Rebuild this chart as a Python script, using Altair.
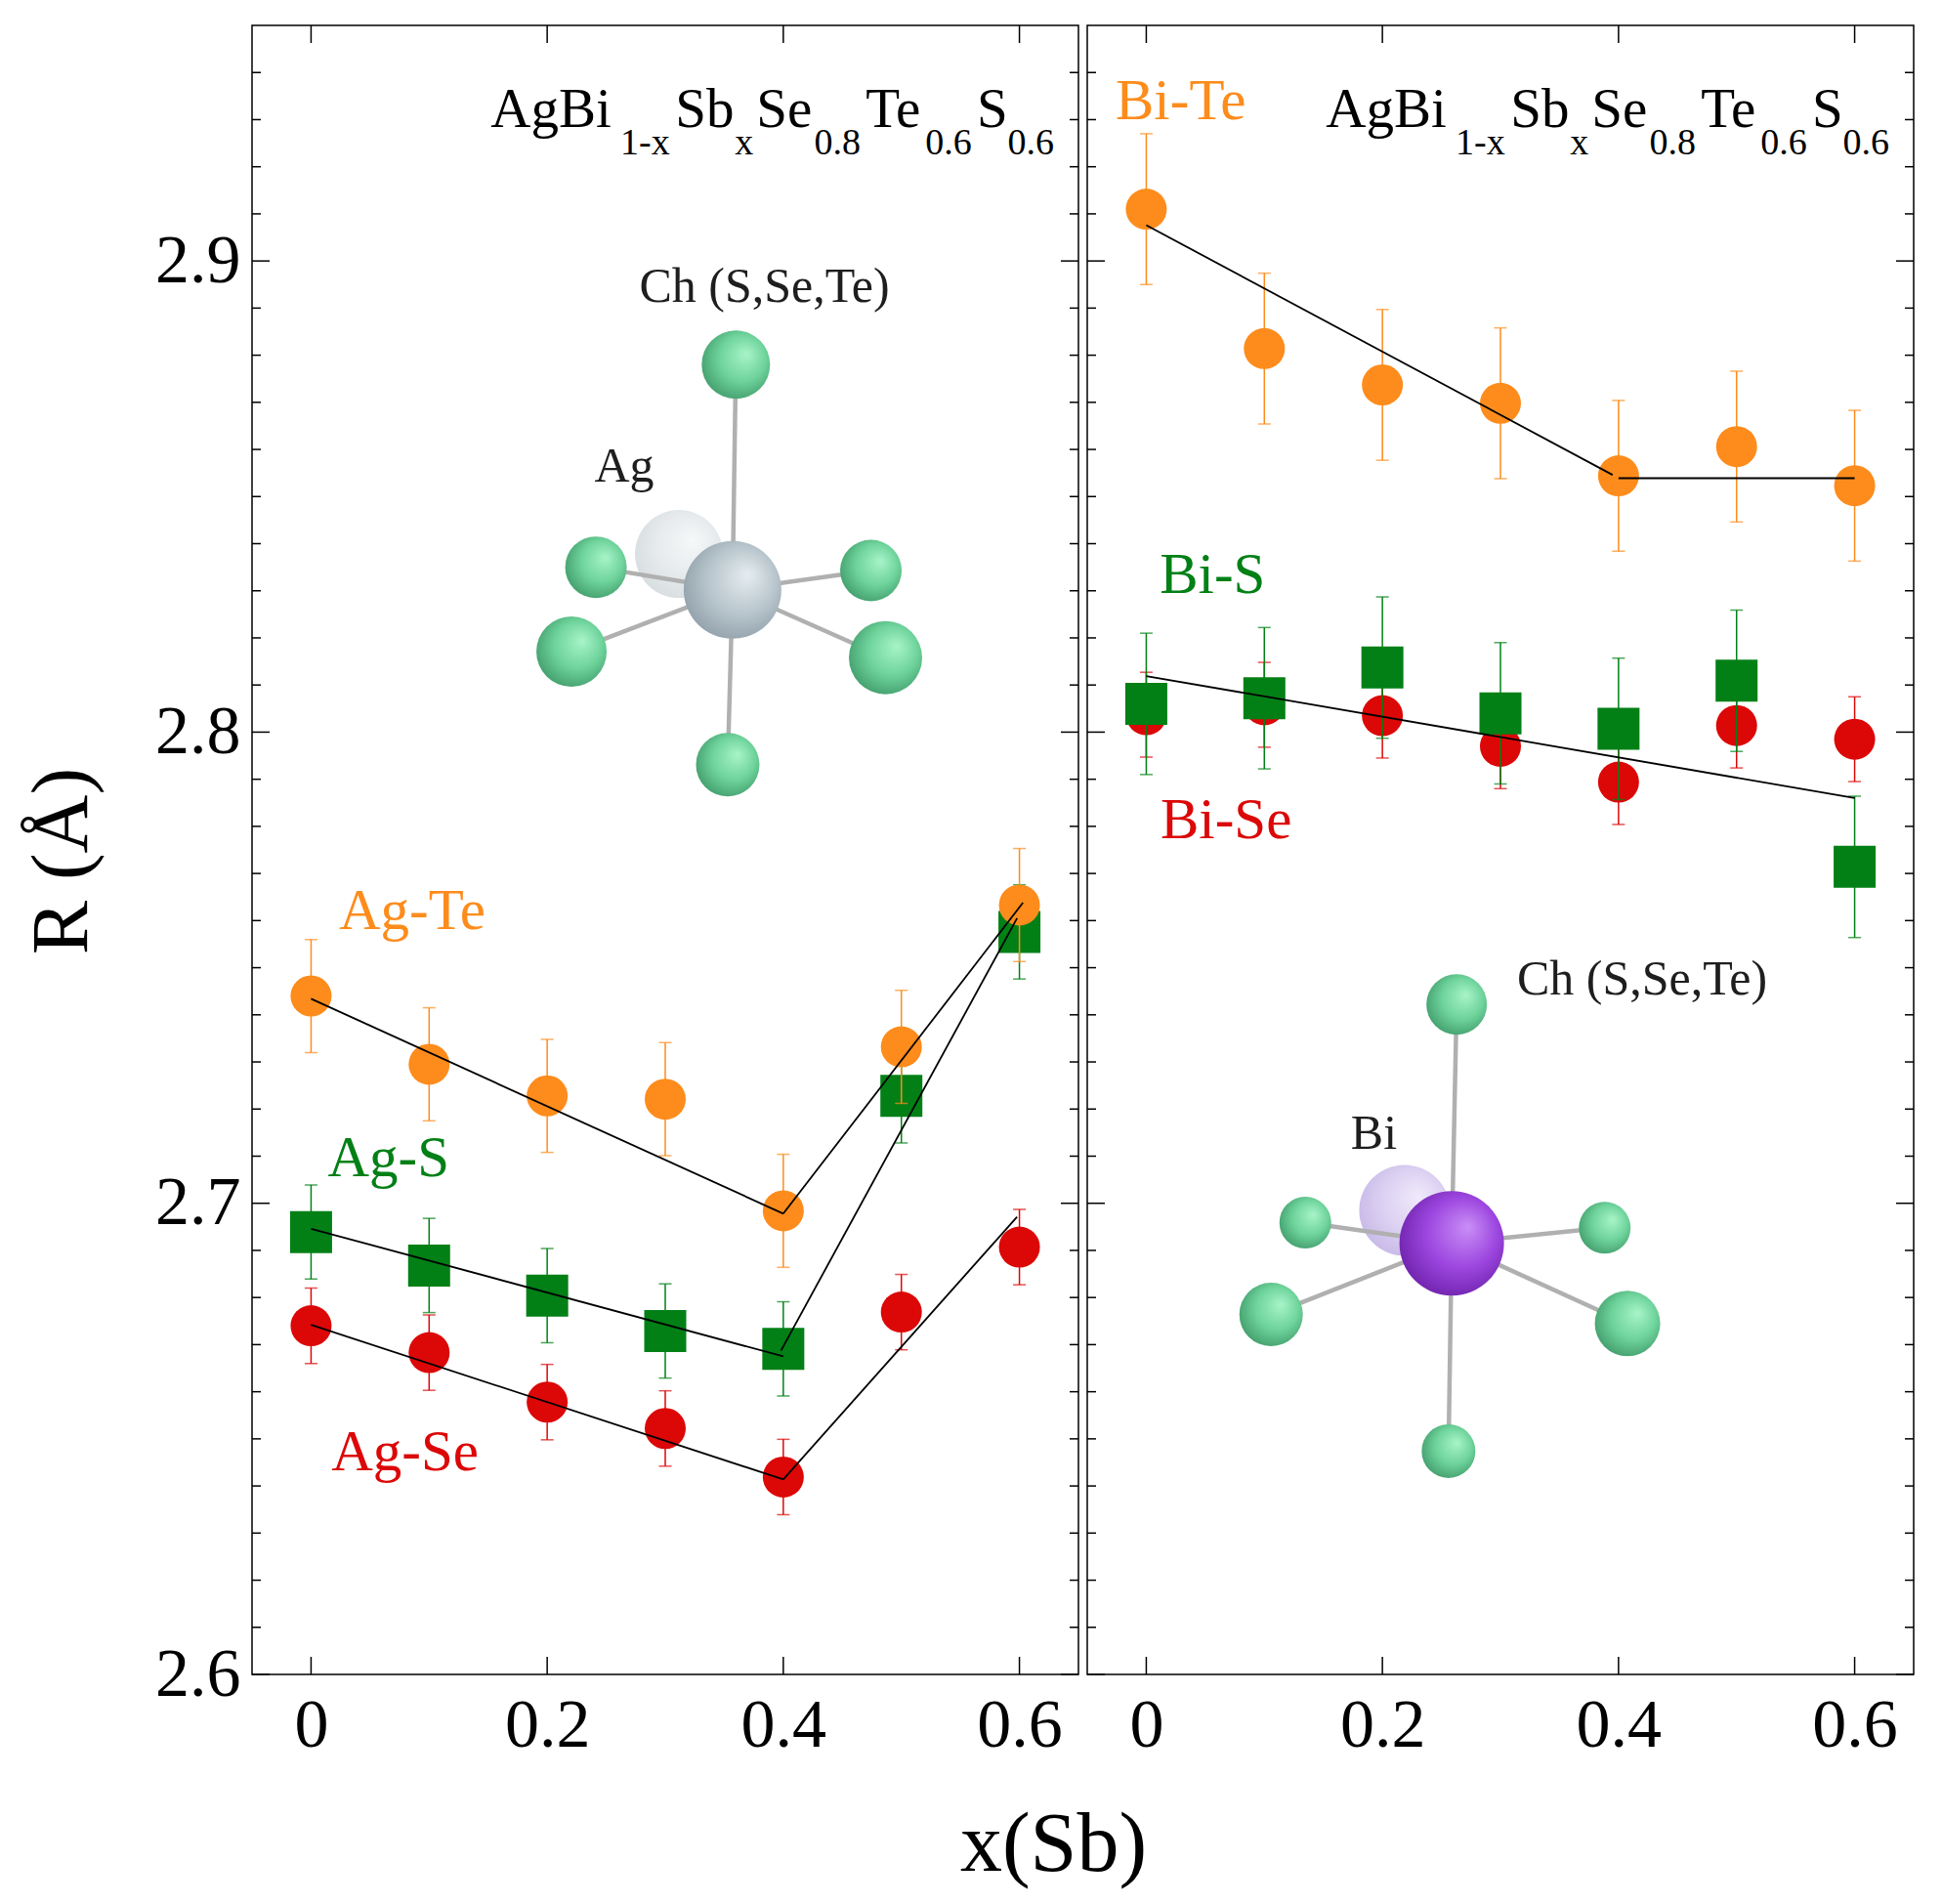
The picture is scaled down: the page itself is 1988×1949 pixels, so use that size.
import altair as alt
import pandas as pd

FONT = "Liberation Serif"
ORANGE = "#fd8c1c"
RED = "#dc0707"
GREEN = "#028016"

# ---------------- data ----------------
x_sb = [0.0, 0.1, 0.2, 0.3, 0.4, 0.5, 0.6]

ag_te = [2.7440, 2.7295, 2.7228, 2.7221, 2.6984, 2.7332, 2.7633]
ag_te_err = 0.012
ag_s = [2.6939, 2.6868, 2.6804, 2.6729, 2.6691, 2.7228, 2.7576]
ag_s_err = 0.010
ag_se = [2.6740, 2.6683, 2.6578, 2.6522, 2.6419, 2.6769, 2.6907]
ag_se_err = 0.008

bi_te = [2.9110, 2.8814, 2.8737, 2.8698, 2.8544, 2.8606, 2.8523]
bi_te_err = 0.016
bi_s = [2.8060, 2.8072, 2.8137, 2.8040, 2.8007, 2.8109, 2.7714]
bi_s_err = 0.015
bi_se = [2.8037, 2.8058, 2.8035, 2.7970, 2.7894, 2.8014, 2.7985]
bi_se_err = 0.009

# fitted segments: x1, y1, x2, y2
ag_fit_x1 = [0.0, 0.4, 0.0, 0.398, 0.0, 0.4]
ag_fit_y1 = [2.7434, 2.6978, 2.6946, 2.6687, 2.6742, 2.6414]
ag_fit_x2 = [0.4, 0.603, 0.4, 0.598, 0.4, 0.598]
ag_fit_y2 = [2.6978, 2.7638, 2.6675, 2.7605, 2.6414, 2.6971]

bi_fit_x1 = [0.0, 0.4, 0.0]
bi_fit_y1 = [2.9076, 2.8539, 2.8119]
bi_fit_x2 = [0.395, 0.6, 0.6]
bi_fit_y2 = [2.8546, 2.8539, 2.7860]

# axis ticks
x_tick_values = [0.0, 0.2, 0.4, 0.6]
y_tick_values = [2.6, 2.7, 2.8, 2.9]
y_minor_values = [round(2.6 + 0.01 * i, 2) for i in range(1, 35) if i % 10 != 0]

# annotation texts (data coordinates)
formula_main = ["AgBi", "Sb", "Se", "Te", "S"]
formula_main_x = [0.1522, 0.3085, 0.3772, 0.4698, 0.5640]
formula_sub = ["1-x", "x", "0.8", "0.6", "0.6"]
formula_sub_x = [0.2620, 0.3590, 0.4262, 0.5202, 0.5900]
formula_main_y = 2.9284
formula_sub_y = 2.9226

ag_labels = ["Ag-Te", "Ag-S", "Ag-Se"]
ag_labels_x = [0.0236, 0.0141, 0.0172]
ag_labels_y = [2.7582, 2.7058, 2.6434]
bi_labels = ["Bi-Te", "Bi-S", "Bi-Se"]
bi_labels_x = [-0.026, 0.0114, 0.012]
bi_labels_y = [2.930, 2.8295, 2.7775]

# molecule illustrations (data coordinates)
ag_ch_x = [0.3598, 0.2413, 0.4742, 0.2206, 0.4866, 0.3529]
ag_ch_y = [2.8780, 2.8350, 2.8343, 2.8171, 2.8158, 2.7931]
ag_center = [0.357, 2.8302]
ag_ghost = [0.3116, 2.8378]
ag_mol_text = ["Ch (S,Se,Te)", "Ag"]
ag_mol_text_x = [0.278, 0.240]
ag_mol_text_y = [2.8913, 2.8532]

bi_ch_x = [0.2629, 0.1347, 0.3883, 0.1057, 0.4076, 0.2560]
bi_ch_y = [2.7422, 2.6959, 2.6948, 2.6764, 2.6745, 2.6474]
bi_center = [0.2587, 2.6915]
bi_ghost = [0.2188, 2.6985]
bi_mol_text = ["Ch (S,Se,Te)", "Bi"]
bi_mol_text_x = [0.314, 0.1733]
bi_mol_text_y = [2.7444, 2.7115]

# ---------------- styles ----------------
W, H = 846, 1688
CH_DIAM_AG = [70, 63, 63, 72, 75, 65]
CH_DIAM_BI = [62, 53, 53, 65, 67, 55]


def grad(c0, c1, c2):
    return {"gradient": "radial", "x1": 0.66, "y1": 0.34, "r1": 0.0,
            "x2": 0.55, "y2": 0.45, "r2": 0.62,
            "stops": [{"offset": 0, "color": c0}, {"offset": 0.55, "color": c1},
                      {"offset": 1, "color": c2}]}


GREEN_BALL = grad("#a8f4c9", "#6ed39b", "#3f9a69")
AG_BALL = grad("#e6edf0", "#b9c6cd", "#8e9ea8")
AG_GHOST = grad("#f6f8f9", "#e7ebed", "#d6dcdf")
BI_BALL = grad("#c98ef6", "#9c46df", "#6b20a8")
BI_GHOST = grad("#f0eafb", "#dcd1f2", "#c6b7e6")


def sx():
    return alt.Scale(domain=[-0.05, 0.65], nice=False, zero=False)


def sy():
    return alt.Scale(domain=[2.6, 2.95], nice=False, zero=False)


def build_panel(series, fit, labels, molecule, left):
    x_axis = alt.Axis(values=x_tick_values, ticks=False, domain=False, grid=False,
                      labelExpr="datum.value == 0 ? '0' : format(datum.value, '.1f')",
                      labelFont=FONT, labelFontSize=70, labelColor="black", labelPadding=18,
                      labelFlush=False, labelOverlap=False,
                      title="x(Sb)" if left else None,
                      titleFont=FONT, titleFontSize=86, titleFontWeight="normal",
                      titleColor="black", titleX=820, titleY=200,
                      titleAlign="center", titleBaseline="alphabetic")
    if left:
        y_axis = alt.Axis(values=y_tick_values, format=".1f", ticks=False, domain=False,
                          grid=False, labelFont=FONT, labelFontSize=70, labelColor="black",
                          labelPadding=12, labelFlush=False, labelOverlap=False,
                          title="R (Å)", titleFont=FONT, titleFontSize=83,
                          titleFontWeight="normal", titleColor="black",
                          titleX=-170, titleY=855, titleAngle=270,
                          titleAlign="center", titleBaseline="alphabetic")
    else:
        y_axis = None

    def X(f):
        return alt.X(f, type="quantitative", scale=sx(), axis=x_axis)

    def Y(f):
        return alt.Y(f, type="quantitative", scale=sy(), axis=y_axis)

    layers = []

    # --- molecule illustration ---
    chx, chy, cen, gho, ball, ghost_ball, diams, mtext, mtx, mty = molecule
    bonds = pd.DataFrame({"x1": [cen[0]] * 6, "y1": [cen[1]] * 6, "x2": chx, "y2": chy})
    ghost_df = pd.DataFrame({"x": [gho[0]], "y": [gho[1]], "s": [diams[-1] ** 2]})
    layers.append(alt.Chart(ghost_df).mark_point(filled=True, shape="circle", fill=ghost_ball,
                                                 opacity=1, strokeWidth=0)
                  .encode(x=X("x"), y=Y("y"), size=alt.Size("s:Q", scale=None)))
    layers.append(alt.Chart(bonds).mark_rule(color="#b0b0b0", strokeWidth=4.5)
                  .encode(x=X("x1"), y=Y("y1"), x2="x2", y2="y2"))
    ch_df = pd.DataFrame({"x": chx, "y": chy, "s": [d ** 2 for d in diams[:6]]})
    layers.append(alt.Chart(ch_df).mark_point(filled=True, shape="circle", fill=GREEN_BALL,
                                              opacity=1, strokeWidth=0)
                  .encode(x=X("x"), y=Y("y"), size=alt.Size("s:Q", scale=None)))
    cen_df = pd.DataFrame({"x": [cen[0]], "y": [cen[1]], "s": [diams[6] ** 2]})
    layers.append(alt.Chart(cen_df).mark_point(filled=True, shape="circle", fill=ball,
                                               opacity=1, strokeWidth=0)
                  .encode(x=X("x"), y=Y("y"), size=alt.Size("s:Q", scale=None)))
    mt_df = pd.DataFrame({"t": mtext, "x": mtx, "y": mty})
    layers.append(alt.Chart(mt_df).mark_text(font=FONT, fontSize=50, color="#1e1e1e",
                                             align="left", baseline="alphabetic")
                  .encode(x=X("x"), y=Y("y"), text="t:N"))

    # --- data series ---
    for vals, err, color, shape, size in series:
        df = pd.DataFrame({"x": x_sb, "y": vals,
                           "lo": [v - err for v in vals], "hi": [v + err for v in vals]})
        b = alt.Chart(df)
        layers.append(b.mark_rule(color=color, strokeWidth=1.5)
                      .encode(x=X("x"), y=Y("lo"), y2="hi"))
        layers.append(b.mark_tick(color=color, orient="horizontal", size=13, thickness=1.5)
                      .encode(x=X("x"), y=Y("lo")))
        layers.append(b.mark_tick(color=color, orient="horizontal", size=13, thickness=1.5)
                      .encode(x=X("x"), y=Y("hi")))
        layers.append(b.mark_point(filled=True, shape=shape, size=size, color=color,
                                   opacity=1, strokeWidth=0)
                      .encode(x=X("x"), y=Y("y")))

    # --- fits ---
    fx1, fy1, fx2, fy2 = fit
    fit_df = pd.DataFrame({"x1": fx1, "y1": fy1, "x2": fx2, "y2": fy2})
    layers.append(alt.Chart(fit_df).mark_rule(color="black", strokeWidth=1.8)
                  .encode(x=X("x1"), y=Y("y1"), x2="x2", y2="y2"))

    # --- labels ---
    names, lx, ly = labels
    for name, xx, yy, col in zip(names, lx, ly, [ORANGE, GREEN, RED]):
        d = pd.DataFrame({"t": [name], "x": [xx], "y": [yy]})
        layers.append(alt.Chart(d).mark_text(font=FONT, fontSize=59, color=col,
                                             align="left", baseline="alphabetic")
                      .encode(x=X("x"), y=Y("y"), text="t:N"))

    fm = pd.DataFrame({"t": formula_main, "x": formula_main_x, "y": [formula_main_y] * 5})
    fs = pd.DataFrame({"t": formula_sub, "x": formula_sub_x, "y": [formula_sub_y] * 5})
    layers.append(alt.Chart(fm).mark_text(font=FONT, fontSize=57, color="black",
                                          align="left", baseline="alphabetic")
                  .encode(x=X("x"), y=Y("y"), text="t:N"))
    layers.append(alt.Chart(fs).mark_text(font=FONT, fontSize=38, color="black",
                                          align="left", baseline="alphabetic")
                  .encode(x=X("x"), y=Y("y"), text="t:N"))

    # --- inward ticks ---
    ymin = pd.DataFrame({"v": y_minor_values})
    ymaj = pd.DataFrame({"v": y_tick_values})
    xmaj = pd.DataFrame({"v": x_tick_values})
    tk = dict(color="black", strokeWidth=1.5)
    layers.append(alt.Chart(ymin).mark_rule(**tk).encode(y=Y("v"), x=alt.value(0), x2=alt.value(9)))
    layers.append(alt.Chart(ymin).mark_rule(**tk).encode(y=Y("v"), x=alt.value(W - 9), x2=alt.value(W)))
    layers.append(alt.Chart(ymaj).mark_rule(**tk).encode(y=Y("v"), x=alt.value(0), x2=alt.value(18)))
    layers.append(alt.Chart(ymaj).mark_rule(**tk).encode(y=Y("v"), x=alt.value(W - 18), x2=alt.value(W)))
    layers.append(alt.Chart(xmaj).mark_rule(**tk).encode(x=X("v"), y=alt.value(0), y2=alt.value(18)))
    layers.append(alt.Chart(xmaj).mark_rule(**tk).encode(x=X("v"), y=alt.value(H - 18), y2=alt.value(H)))

    return alt.layer(*layers).properties(width=W, height=H)


CIRCLE = 42 ** 2
SQUARE = 43 ** 2

left_panel = build_panel(
    [(ag_se, ag_se_err, RED, "circle", CIRCLE),
     (ag_s, ag_s_err, GREEN, "square", SQUARE),
     (ag_te, ag_te_err, ORANGE, "circle", CIRCLE)],
    (ag_fit_x1, ag_fit_y1, ag_fit_x2, ag_fit_y2),
    (ag_labels, ag_labels_x, ag_labels_y),
    (ag_ch_x, ag_ch_y, ag_center, ag_ghost, AG_BALL, AG_GHOST,
     CH_DIAM_AG + [100, 90], ag_mol_text, ag_mol_text_x, ag_mol_text_y),
    True)

right_panel = build_panel(
    [(bi_se, bi_se_err, RED, "circle", CIRCLE),
     (bi_s, bi_s_err, GREEN, "square", SQUARE),
     (bi_te, bi_te_err, ORANGE, "circle", CIRCLE)],
    (bi_fit_x1, bi_fit_y1, bi_fit_x2, bi_fit_y2),
    (bi_labels, bi_labels_x, bi_labels_y),
    (bi_ch_x, bi_ch_y, bi_center, bi_ghost, BI_BALL, BI_GHOST,
     CH_DIAM_BI + [107, 93], bi_mol_text, bi_mol_text_x, bi_mol_text_y),
    False)

chart = (alt.hconcat(left_panel, right_panel, spacing=9, bounds="flush")
         .properties(padding={"left": 13, "top": 16, "right": 5, "bottom": 5},
                     background="white")
         .configure_view(stroke="black", strokeWidth=1.5))

chart.save("out.html", embed_options={"renderer": "svg", "actions": False})
